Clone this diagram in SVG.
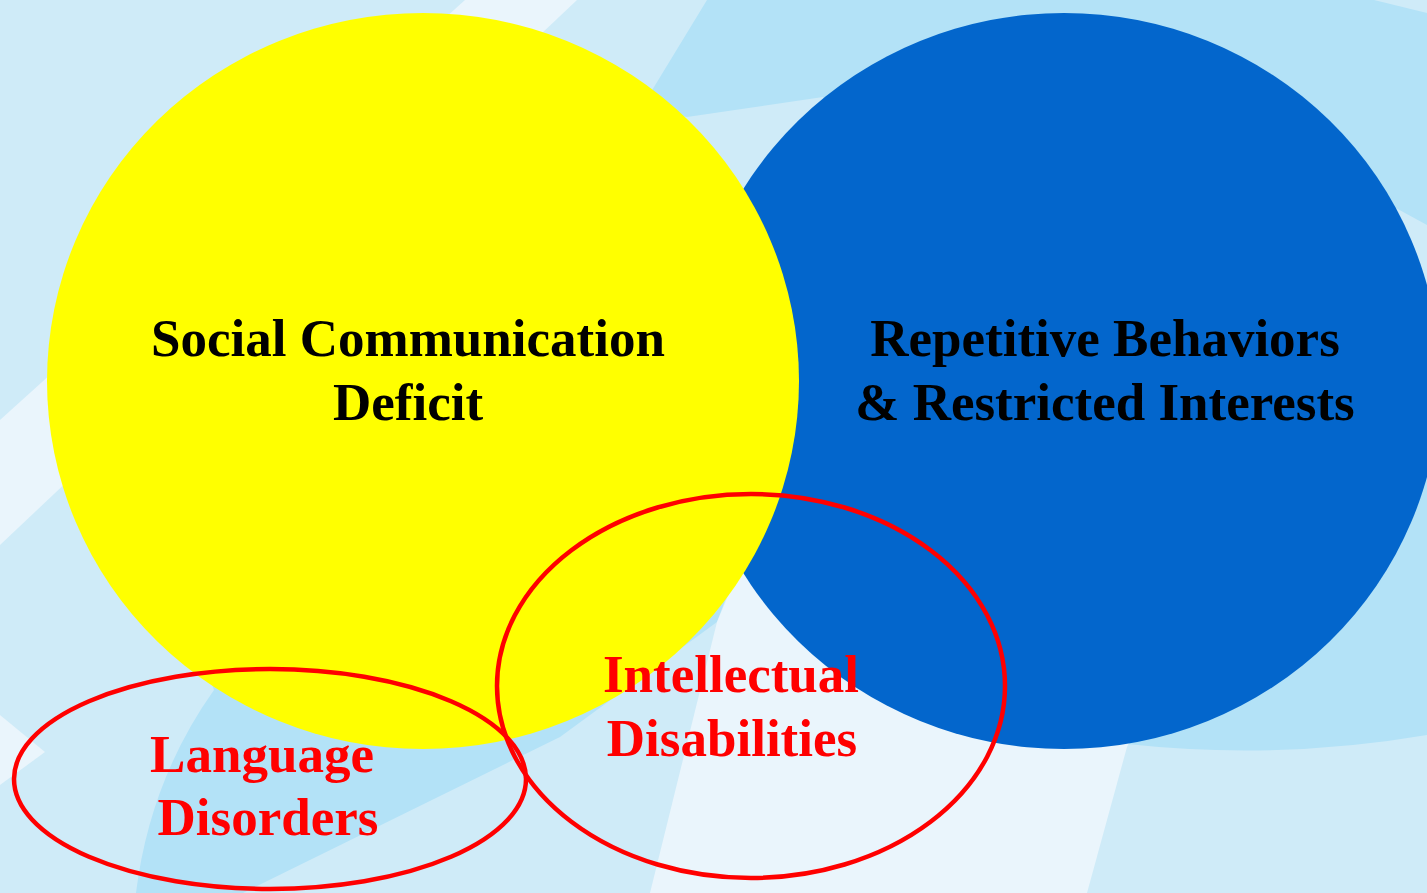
<svg xmlns="http://www.w3.org/2000/svg" width="1427" height="893" viewBox="0 0 1427 893">
  <style>
    .base { fill: #CFEBF8; }
    .light { fill: #EAF5FC; }
    .mid { fill: #B3E2F7; }
    .title { font-family: "Liberation Serif", "DejaVu Serif", serif; font-weight: bold; font-size: 53px; text-anchor: middle; }
    .dark { fill: #000000; }
    .red { fill: #FF0000; }
    .ring { fill: none; stroke: #FF0000; stroke-width: 4.5; }
  </style>

  <!-- background with soft bands -->
  <g id="background">
    <rect class="base" x="0" y="0" width="1427" height="893"/>
    <polygon class="light" points="465,0 577,0 0,545 0,420"/>
    <polygon class="light" points="0,715 45,752 0,785"/>
    <path class="mid" d="M707,0 L1427,0 L1427,735 A640,370 0 0 1 1127,744 L1000,600 L900,300 L823,97 L687,117 L640,110 Z"/>
    <polygon class="base" points="1374,0 1427,0 1427,13"/>
    <polygon class="base" points="1394,207 1427,225 1427,300 1380,250"/>
    <path class="mid" d="M200,650 L214,690 Q150,780 136,893 L243,893 L560,737 L717,622 L740,560 L500,600 Z"/>
    <polygon class="light" points="743,560 1150,700 1127,747 1087,893 650,893 717,622"/>
  </g>

  <g id="repetitive-behaviors">
    <ellipse cx="1064" cy="381" rx="376" ry="368" fill="#0366CC"/>
    <text class="title dark" x="1105" y="356">Repetitive Behaviors</text>
    <text class="title dark" x="1105" y="420">&amp; Restricted Interests</text>
  </g>

  <g id="social-communication">
    <ellipse cx="423" cy="381" rx="376" ry="368" fill="#FFFF00"/>
    <text class="title dark" x="408" y="356">Social Communication</text>
    <text class="title dark" x="408" y="420">Deficit</text>
  </g>

  <g id="language-disorders">
    <ellipse class="ring" cx="270" cy="779" rx="256" ry="110"/>
    <text class="title red" x="262" y="772">Language</text>
    <text class="title red" x="268" y="835">Disorders</text>
  </g>

  <g id="intellectual-disabilities">
    <ellipse class="ring" cx="751" cy="686" rx="254" ry="192"/>
    <text class="title red" x="731" y="692">Intellectual</text>
    <text class="title red" x="732" y="756">Disabilities</text>
  </g>
</svg>
